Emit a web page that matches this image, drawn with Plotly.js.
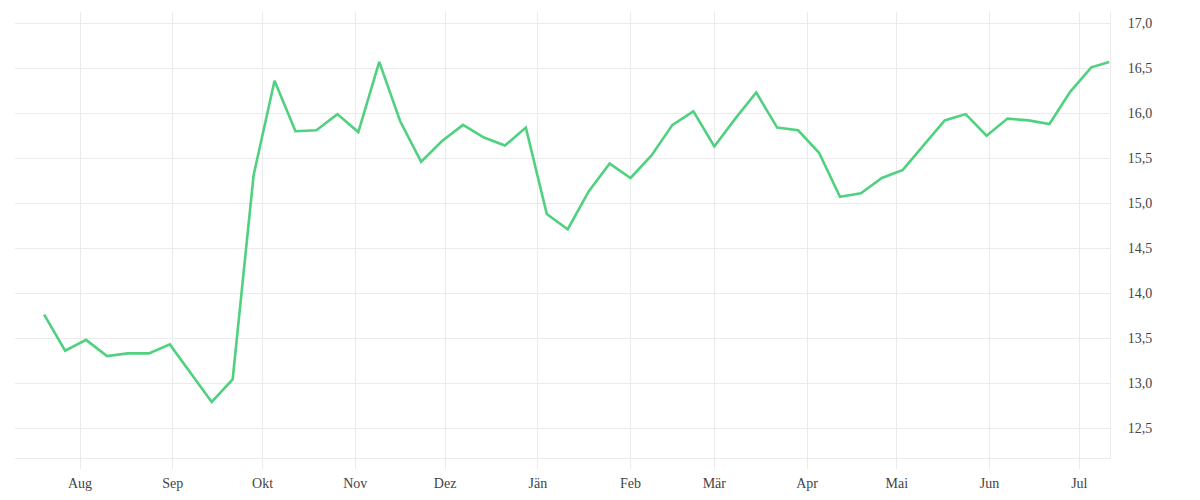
<!DOCTYPE html>
<html>
<head>
<meta charset="utf-8">
<script src="https://cdn.plot.ly/plotly-3.0.1.min.js"></script>
<style>
html,body{margin:0;padding:0;background:#fff;}
#chart{width:1200px;height:500px;}
</style>
</head>
<body>
<div id="chart"></div>
<script>
// Weekly dates and values
const dates = [
  "2024-07-20","2024-07-27","2024-08-03","2024-08-10","2024-08-17","2024-08-24","2024-08-31",
  "2024-09-07","2024-09-14","2024-09-21","2024-09-28","2024-10-05","2024-10-12","2024-10-19",
  "2024-10-26","2024-11-02","2024-11-09","2024-11-16","2024-11-23","2024-11-30","2024-12-07",
  "2024-12-14","2024-12-21","2024-12-28","2025-01-04","2025-01-11","2025-01-18","2025-01-25",
  "2025-02-01","2025-02-08","2025-02-15","2025-02-22","2025-03-01","2025-03-08","2025-03-15",
  "2025-03-22","2025-03-29","2025-04-05","2025-04-12","2025-04-19","2025-04-26","2025-05-03",
  "2025-05-10","2025-05-17","2025-05-24","2025-05-31","2025-06-07","2025-06-14","2025-06-21",
  "2025-06-28","2025-07-05","2025-07-11"
];
const values = [
  13.76,13.36,13.48,13.30,13.33,13.33,13.43,
  13.11,12.79,13.04,15.31,16.36,15.80,15.81,
  15.99,15.79,16.57,15.91,15.46,15.69,15.87,
  15.73,15.64,15.84,14.88,14.71,15.13,15.44,
  15.28,15.53,15.87,16.02,15.63,15.94,16.23,
  15.84,15.81,15.56,15.07,15.11,15.28,15.37,
  15.64,15.92,15.99,15.75,15.94,15.92,15.88,
  16.24,16.51,16.57
];
const monthTicks = [
  "2024-08-01","2024-09-01","2024-10-01","2024-11-01","2024-12-01","2025-01-01",
  "2025-02-01","2025-03-01","2025-04-01","2025-05-01","2025-06-01","2025-07-01"
];
const monthLabels = ["Aug","Sep","Okt","Nov","Dez","Jän","Feb","Mär","Apr","Mai","Jun","Jul"];
const yTicks = [12.5,13.0,13.5,14.0,14.5,15.0,15.5,16.0,16.5,17.0];

const gridColor = "#ebebeb";
const trace = {
  x: dates, y: values, type: "scatter", mode: "lines",
  line: {color: "#4fd17f", width: 2.6},
  hoverinfo: "x+y"
};
const layout = {
  width: 1200, height: 500,
  margin: {l: 15, r: 90, t: 12, b: 42},
  paper_bgcolor: "#fff", plot_bgcolor: "#fff",
  separators: ",.",
  showlegend: false,
  font: {family: "Liberation Serif, serif", size: 14, color: "#444"},
  xaxis: {
    type: "date",
    range: ["2024-07-10 06:00", "2025-07-11 06:00"],
    tickvals: monthTicks, ticktext: monthLabels,
    showgrid: true, gridcolor: gridColor, gridwidth: 1,
    showline: true, linecolor: gridColor, linewidth: 1,
    ticks: "outside", ticklen: 10, tickcolor: gridColor, tickwidth: 1,
    ticklabelstandoff: 2,
    zeroline: false, fixedrange: true
  },
  yaxis: {
    side: "right",
    range: [12.167, 17.125],
    tickvals: yTicks, tickformat: ".1f",
    showgrid: true, gridcolor: gridColor, gridwidth: 1,
    showline: true, linecolor: gridColor, linewidth: 1,
    ticks: "", ticklabelstandoff: 14,
    zeroline: false, fixedrange: true
  }
};
Plotly.newPlot("chart", [trace], layout, {displayModeBar: false, staticPlot: true});
</script>
</body>
</html>
